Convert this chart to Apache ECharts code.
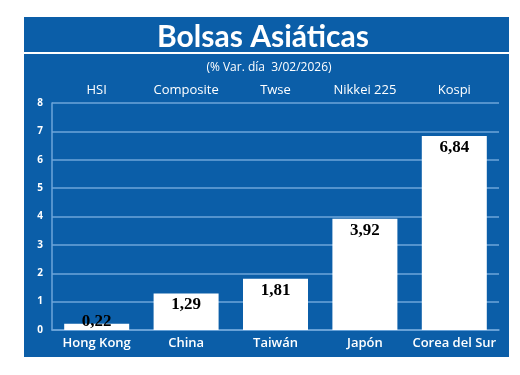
<!DOCTYPE html>
<html><head><meta charset="utf-8">
<script src="https://cdn.jsdelivr.net/npm/echarts@6/dist/echarts.min.js"></script>
<style>html,body{margin:0;padding:0;background:#fff}#c{width:520px;height:375px}</style>
</head><body><div id="c"></div>
<script>
const countries = ['Hong Kong', 'China', 'Taiwán', 'Japón', 'Corea del Sur'];
const indices = ['HSI', 'Composite', 'Twse', 'Nikkei 225', 'Kospi'];
const values = [0.22, 1.29, 1.81, 3.92, 6.84];
const yTicks = [0, 1, 2, 3, 4, 5, 6, 7, 8];
const titleText = 'Bolsas Asiáticas';
const subtitleText = '(% Var. día  3/02/2026)';

const BLUE = '#0b5ea8';
const GRID = '#6ea6da';
const chart = echarts.init(document.getElementById('c'), null, {renderer: 'canvas'});
chart.setOption({
  animation: false,
  backgroundColor: '#ffffff',
  graphic: [
    {type: 'rect', left: 24, top: 17, shape: {width: 485, height: 340}, style: {fill: BLUE}, z: -10},
    {type: 'rect', left: 24, top: 52, shape: {width: 485, height: 2}, style: {fill: '#ffffff'}, z: -9}
  ],
  title: [
    {text: titleText, left: 258, textAlign: 'center', top: 17,
     textStyle: {color: '#fff', fontFamily: 'Lato', fontWeight: 'bold', fontSize: 30}},
    {text: subtitleText, left: 264, textAlign: 'center', top: 57,
     textStyle: {color: '#fff', fontFamily: 'Open Sans', fontWeight: 'normal', fontSize: 12}}
  ],
  grid: {left: 52, right: 21, top: 103, bottom: 45},
  xAxis: [
    {type: 'category', data: countries, position: 'bottom',
     axisLine: {lineStyle: {color: GRID, width: 1.5}},
     axisTick: {inside: true, length: 4, lineStyle: {color: GRID, width: 1.5}},
     axisLabel: {interval: 0, color: '#fff', fontFamily: 'Open Sans', fontWeight: 600, fontSize: 13, margin: 7}},
    {type: 'category', data: indices, position: 'top',
     axisLine: {show: false}, axisTick: {show: false},
     axisLabel: {interval: 0, color: '#fff', fontFamily: 'Open Sans', fontWeight: 'normal', fontSize: 13, margin: 6}}
  ],
  yAxis: {type: 'value', min: yTicks[0], max: yTicks[yTicks.length - 1], interval: 1,
    axisLine: {show: true, lineStyle: {color: GRID, width: 1.5}},
    axisTick: {show: false},
    splitLine: {lineStyle: {color: GRID, width: 1.5}},
    axisLabel: {color: '#fff', fontFamily: 'Open Sans', fontWeight: 'bold', fontSize: 10, margin: 9}},
  series: [{
    type: 'bar', xAxisIndex: 0, barWidth: 65,
    itemStyle: {color: '#ffffff'},
    data: values.map((v, i) => i === 0
      ? {value: v, label: {position: 'top', distance: -6}}
      : {value: v}),
    label: {show: true, position: 'insideTop', distance: 3,
      formatter: p => p.value.toFixed(2).replace('.', ','),
      color: '#000', fontFamily: 'Liberation Serif', fontWeight: 'bold', fontSize: 17}
  }]
});
</script></body></html>
